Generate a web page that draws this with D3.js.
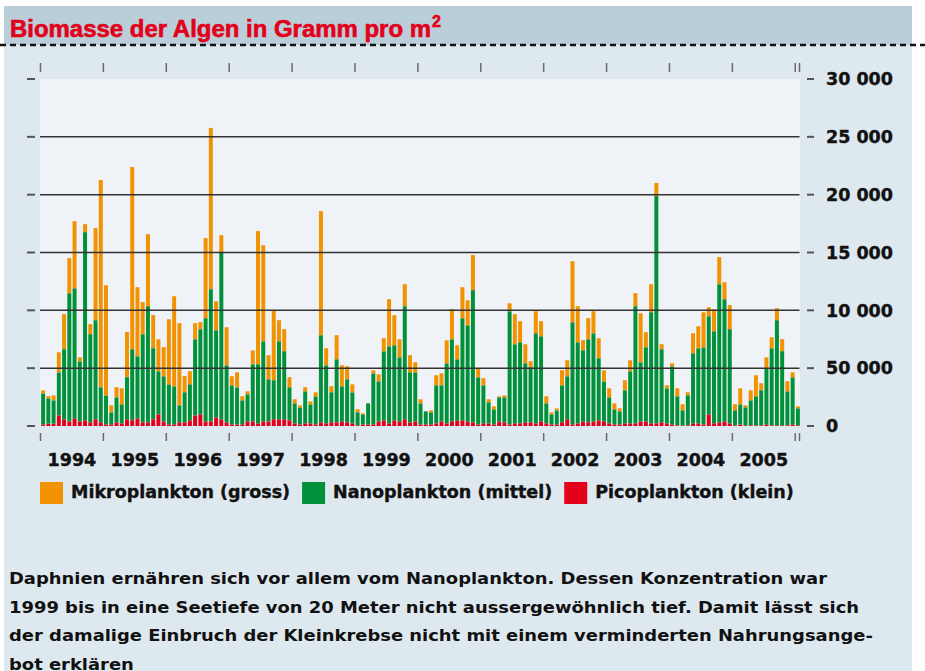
<!DOCTYPE html>
<html>
<head>
<meta charset="utf-8">
<script src="https://cdn.jsdelivr.net/npm/d3@7/dist/d3.min.js"></script>
<style>
    html, body { margin: 0; padding: 0; background: #ffffff; }
    svg { display: block; }
    text { font-family: "DejaVu Sans", "Liberation Sans", sans-serif; font-weight: bold; }
</style>
</head>
<body>
<svg id="chart" width="925" height="671"></svg>
<script>
// Monthly samples, Jan 1994 .. Jan 2006 (145 bars), biomass in g per m2
const years = ["1994", "1995", "1996", "1997", "1998", "1999",
               "2000", "2001", "2002", "2003", "2004", "2005"];

const pico = [
    140, 200, 200, 920, 580, 400, 660, 400, 490, 320, 580, 320,
    140, 140, 320, 230, 580, 490, 660, 320, 320, 580, 1010, 400,
    140, 140, 320, 320, 490, 920, 1010, 400, 400, 750, 580, 320,
    140, 140, 140, 400, 400, 230, 400, 400, 580, 580, 580, 490,
    230, 140, 230, 230, 140, 320, 230, 320, 320, 400, 320, 230,
    60, 140, 140, 140, 400, 490, 230, 490, 400, 580, 320, 400,
    140, 140, 140, 230, 400, 230, 400, 490, 490, 400, 320, 140,
    230, 230, 140, 400, 320, 140, 230, 230, 320, 320, 230, 400,
    230, 140, 140, 320, 580, 140, 230, 400, 320, 400, 490, 400,
    230, 140, 140, 230, 230, 230, 400, 400, 230, 230, 320, 230,
    140, 60, 60, 60, 230, 230, 140, 1010, 230, 320, 400, 230,
    60, 140, 60, 60, 60, 60, 140, 60, 60, 60, 60, 140,
    60
];

const nano = [
    2680, 2190, 2020, 3720, 6060, 11080, 11250, 5190, 16270, 7620, 8570, 3030,
    2510, 1040, 2160, 1640, 3640, 6150, 5370, 7620, 10040, 6150, 3720, 3900,
    3460, 3290, 1470, 2600, 3120, 6580, 7360, 8920, 11430, 7530, 14450, 4930,
    3380, 3200, 2080, 2340, 4930, 5110, 6920, 3640, 3380, 6750, 5890, 2860,
    1730, 1470, 2770, 1640, 2420, 7530, 5020, 2600, 5450, 3030, 3720, 2680,
    1130, 870, 1820, 4410, 3460, 5970, 6660, 6490, 5540, 9780, 4330, 4240,
    1820, 1130, 1040, 3290, 3120, 5190, 7100, 5280, 8830, 8310, 11430, 4070,
    3290, 1820, 1300, 2080, 2160, 9780, 6840, 7010, 5110, 4760, 7790, 7360,
    1730, 870, 1210, 3200, 3720, 8830, 7010, 6150, 7180, 7620, 5370, 3460,
    2250, 1300, 1130, 2860, 4500, 10130, 5110, 6410, 9610, 19650, 6320, 3030,
    5020, 2510, 1300, 2600, 6060, 6490, 6660, 8480, 7960, 11940, 10560, 8140,
    1300, 1730, 1560, 2160, 2510, 3030, 4850, 6660, 9090, 6410, 2940, 4070,
    1470
];

const mikro = [
    260, 200, 430, 1730, 3030, 3030, 5800, 350, 690, 870, 7960, 17920,
    9520, 610, 870, 1390, 3900, 15750, 5970, 2770, 6230, 2860, 2770, 2510,
    5630, 7790, 7100, 1390, 1130, 1390, 610, 6920, 13940, 2510, 1470, 3290,
    780, 1300, 350, 260, 1210, 11510, 8310, 2080, 6060, 1820, 1900, 870,
    350, 170, 350, 260, 350, 10730, 1470, 520, 2080, 1820, 1130, 690,
    260, 90, 0, 260, 610, 1130, 4070, 2600, 1560, 1900, 1470, 870,
    350, 0, 170, 870, 1040, 1990, 2600, 1210, 2680, 2160, 3030, 780,
    610, 260, 260, 90, 170, 690, 2600, 1820, 1640, 520, 1900, 1300,
    610, 170, 170, 1300, 1390, 5280, 3120, 870, 1820, 1900, 1730, 950,
    780, 520, 260, 870, 950, 1130, 4240, 1300, 2420, 1130, 430, 260,
    260, 690, 520, 260, 1730, 1900, 3030, 780, 1900, 2340, 1470, 2080,
    520, 1390, 170, 870, 1820, 610, 950, 950, 1040, 1040, 870, 430,
    170
];

const yTicks = [0, 5000, 10000, 15000, 20000, 25000, 30000];
// "50 000" is printed like that in the original
const yTickLabels = ["0", "50 000", "10 000", "15 000", "20 000", "25 000", "30 000"];

const seriesKeys = ["mikro", "nano", "pico"];
const seriesNames = ["Mikroplankton (gross)", "Nanoplankton (mittel)", "Picoplankton (klein)"];
const seriesColors = ["#f39200", "#00913a", "#e2001a"];

const noteLines = [
    "Daphnien ernähren sich vor allem vom Nanoplankton. Dessen Konzentration war",
    "1999 bis in eine Seetiefe von 20 Meter nicht aussergewöhnlich tief. Damit lässt sich",
    "der damalige Einbruch der Kleinkrebse nicht mit einem verminderten Nahrungsange-",
    "bot erklären"
];

class AlgaeChart {
    constructor() {
        this.svg = d3.select("#chart");
        this.plot = {left: 40.5, right: 800.5, top: 79, bottom: 426};

        this.rows = pico.map((p, i) => ({i, pico: p, nano: nano[i], mikro: mikro[i]}));

        this.x = d3.scaleBand()
            .domain(this.rows.map(d => d.i))
            .range([this.plot.left, this.plot.right])
            .paddingInner(0.24)
            .paddingOuter(0.12);

        this.y = d3.scaleLinear()
            .domain([0, 30000])
            .range([this.plot.bottom, this.plot.top]);

        this.drawFrame();
        this.drawBars();
        this.drawAxes();
        this.drawLegend();
        this.drawNote();
    }

    drawFrame() {
        const svg = this.svg;
        svg.append("rect")
            .attr("x", 4).attr("y", 6)
            .attr("width", 908).attr("height", 665)
            .attr("fill", "#dee8ef");
        svg.append("rect")
            .attr("x", 4).attr("y", 6)
            .attr("width", 908).attr("height", 39)
            .attr("fill", "#b9ced9");
        svg.append("line")
            .attr("x1", 0).attr("x2", 925)
            .attr("y1", 45).attr("y2", 45)
            .attr("stroke", "#111")
            .attr("stroke-width", 2.5)
            .attr("stroke-dasharray", "6,4");

        // heavy condensed-looking headline: stretch to printed width
        const title = svg.append("text")
            .attr("x", 10).attr("y", 37)
            .attr("fill", "#e2001a")
            .attr("stroke", "#e2001a")
            .attr("stroke-width", 0.6)
            .style("font-family", "'Liberation Sans', Arial, sans-serif")
            .style("font-size", "23px");
        title.append("tspan")
            .attr("textLength", 421)
            .attr("lengthAdjust", "spacingAndGlyphs")
            .text("Biomasse der Algen in Gramm pro m");
        title.append("tspan")
            .attr("dx", 1)
            .attr("dy", -10)
            .style("font-size", "16px")
            .text("2");

        svg.append("rect")
            .attr("x", this.plot.left - 0.5).attr("y", this.plot.top)
            .attr("width", this.plot.right - this.plot.left)
            .attr("height", this.plot.bottom - this.plot.top)
            .attr("fill", "#eff3f7");
    }

    drawBars() {
        const stack = d3.stack().keys(["pico", "nano", "mikro"]);
        const colorOf = d3.scaleOrdinal().domain(seriesKeys).range(seriesColors);

        this.svg.append("g")
            .selectAll("g")
            .data(stack(this.rows))
            .join("g")
            .attr("fill", s => colorOf(s.key))
            .selectAll("rect")
            .data(s => s)
            .join("rect")
            .attr("x", d => this.x(d.data.i))
            .attr("width", this.x.bandwidth())
            .attr("y", d => this.y(d[1]))
            .attr("height", d => this.y(d[0]) - this.y(d[1]));

        // grid lines sit on top of the bars
        this.svg.append("g")
            .selectAll("line")
            .data(yTicks.filter(t => t > 0 && t < 30000))
            .join("line")
            .attr("x1", this.plot.left - 0.5)
            .attr("x2", this.plot.right - 1)
            .attr("y1", d => this.y(d))
            .attr("y2", d => this.y(d))
            .attr("stroke", "#333")
            .attr("stroke-width", 1.5);
    }

    drawAxes() {
        const svg = this.svg;
        const step = this.x.step();
        const gap = step * this.x.paddingInner() / 2;

        // year boundaries + the final end mark
        const bounds = years.map((_, k) => this.x(k * 12) - gap);
        bounds.push(this.x(years.length * 12) - gap);
        bounds.push(this.plot.right - 1);

        [[63, 72], [433, 441]].forEach(([y1, y2]) => {
            svg.append("g")
                .selectAll("line")
                .data(bounds)
                .join("line")
                .attr("x1", d => d).attr("x2", d => d)
                .attr("y1", y1).attr("y2", y2)
                .attr("stroke", "#6a6a6a")
                .attr("stroke-width", 1.5);
        });

        svg.append("g")
            .selectAll("text")
            .data(years)
            .join("text")
            .attr("x", (d, k) => (bounds[k] + bounds[k + 1]) / 2)
            .attr("y", 466)
            .attr("text-anchor", "middle")
            .attr("fill", "#111")
            .attr("stroke", "#111")
            .attr("stroke-width", 0.4)
            .style("font-size", "17.5px")
            .text(d => d);

        // y ticks both sides, labels on the right
        [[27, 35], [807, 814]].forEach(([x1, x2]) => {
            svg.append("g")
                .selectAll("line")
                .data(yTicks)
                .join("line")
                .attr("x1", x1).attr("x2", x2)
                .attr("y1", d => this.y(d)).attr("y2", d => this.y(d))
                .attr("stroke", "#555")
                .attr("stroke-width", 2);
        });

        svg.append("g")
            .selectAll("text")
            .data(yTicks)
            .join("text")
            .attr("x", 826)
            .attr("y", d => this.y(d))
            .attr("dy", "0.36em")
            .attr("fill", "#111")
            .attr("stroke", "#111")
            .attr("stroke-width", 0.4)
            .style("font-size", "17.5px")
            .text((d, i) => yTickLabels[i]);
    }

    drawLegend() {
        let x = 40;
        seriesNames.forEach((name, i) => {
            this.svg.append("rect")
                .attr("x", x).attr("y", 482)
                .attr("width", 23).attr("height", 22)
                .attr("fill", seriesColors[i]);
            const label = this.svg.append("text")
                .attr("x", x + 31).attr("y", 498)
                .attr("fill", "#111")
                .attr("stroke", "#111")
                .attr("stroke-width", 0.4)
                .style("font-size", "17.5px")
                .text(name);
            x += 31 + label.node().getComputedTextLength() + 12;
        });
    }

    drawNote() {
        const lines = this.svg.append("g")
            .selectAll("text")
            .data(noteLines)
            .join("text")
            .attr("x", 9)
            .attr("y", (d, i) => 584 + i * 28.5)
            .attr("fill", "#111")
            .style("font-size", "15.5px")
            .text(d => d);

        // widen every line by the same factor so the first one ends where it does in print
        const widths = lines.nodes().map(n => n.getComputedTextLength());
        const ratio = 818 / widths[0];
        lines
            .attr("textLength", (d, i) => widths[i] * ratio)
            .attr("lengthAdjust", "spacingAndGlyphs");
    }
}

const chart = new AlgaeChart();
</script>
</body>
</html>
